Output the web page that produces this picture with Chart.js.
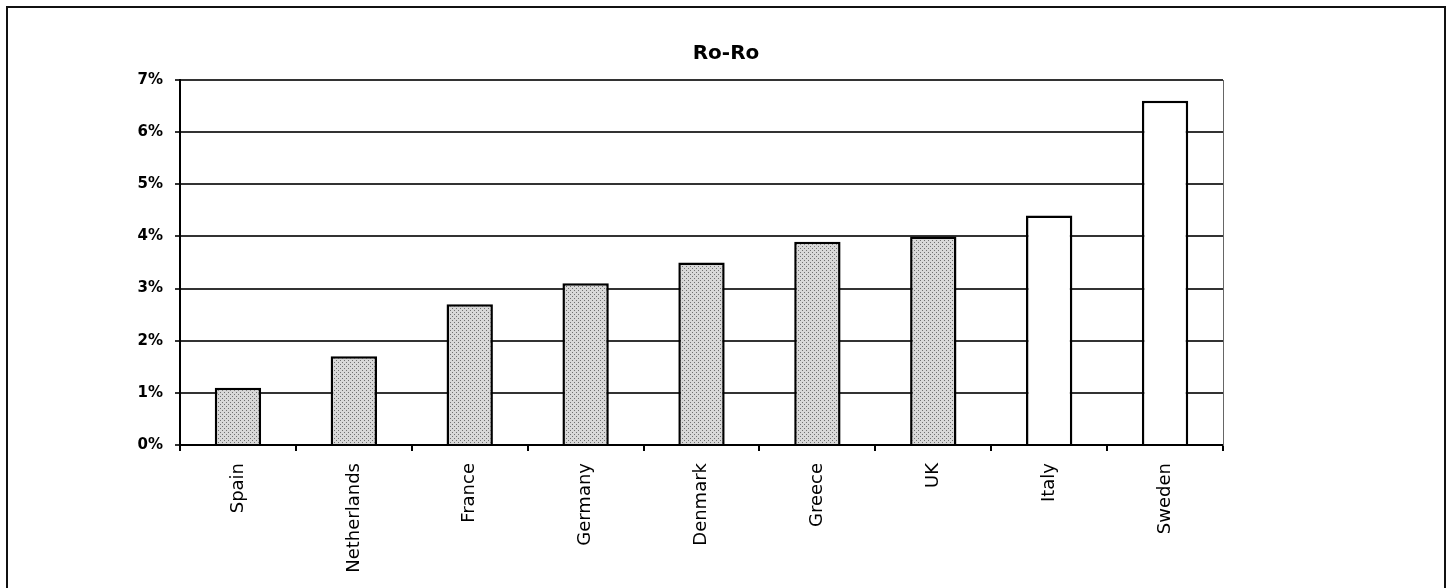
<!DOCTYPE html>
<html>
<head>
<meta charset="utf-8">
<title>Ro-Ro</title>
<script src="https://cdn.jsdelivr.net/npm/chart.js@4/dist/chart.umd.min.js"></script>
<style>
  html, body { margin: 0; padding: 0; background: #fff; }
  #wrap { position: relative; width: 1452px; height: 588px; overflow: hidden; }
  #frame {
    position: absolute; left: 6px; top: 6px; width: 1436px; height: 600px;
    border: 2px solid #111; pointer-events: none;
  }
  canvas { position: absolute; left: 0; top: 0; }
</style>
</head>
<body>
<div id="wrap">
  <canvas id="chart" width="1452" height="588"></canvas>
  <div id="frame"></div>
</div>
<script>
// Ro-Ro share by country, in percent
const countries = ['Spain', 'Netherlands', 'France', 'Germany', 'Denmark', 'Greece', 'UK', 'Italy', 'Sweden'];
const shares = [1.1, 1.7, 2.7, 3.1, 3.5, 3.9, 4.0, 4.4, 6.6];
const shaded = [true, true, true, true, true, true, true, false, false];
const yTicks = [0, 1, 2, 3, 4, 5, 6, 7];

// Stippled grey fill for the shaded bars
function stipple() {
  const c = document.createElement('canvas');
  c.width = 4; c.height = 4;
  const g = c.getContext('2d');
  g.fillStyle = '#d8d8d8';
  g.fillRect(0, 0, 4, 4);
  g.fillStyle = '#707070';
  g.fillRect(0, 0, 1, 1);
  g.fillRect(2, 2, 1, 1);
  return g.createPattern(c, 'repeat');
}
const dots = stipple();

new Chart(document.getElementById('chart'), {
  type: 'bar',
  data: {
    labels: countries,
    datasets: [{
      data: shares,
      backgroundColor: shaded.map(s => s ? dots : '#ffffff'),
      borderColor: '#000',
      borderWidth: 2.5,
      categoryPercentage: 1,
      barPercentage: 0.4
    }]
  },
  options: {
    responsive: false,
    animation: false,
    layout: { padding: 0 },
    plugins: {
      legend: { display: false },
      tooltip: { enabled: false },
      title: {
        display: true,
        text: 'Ro-Ro',
        color: '#000',
        font: { family: 'DejaVu Sans', size: 20, weight: 'bold' },
        padding: { top: 42, bottom: 14 }
      }
    },
    scales: {
      x: {
        grid: {
          offset: true,
          drawOnChartArea: false,
          drawTicks: true,
          tickLength: 6,
          color: '#000',
          lineWidth: 2
        },
        border: { display: true, color: '#000', width: 2 },
        ticks: {
          color: '#000',
          minRotation: 90,
          maxRotation: 90,
          autoSkip: false,
          padding: 12,
          font: { family: 'DejaVu Sans', size: 18 }
        },
        afterFit: s => { s.height = 143; }
      },
      y: {
        min: 0,
        max: 7,
        afterBuildTicks: s => { s.ticks = yTicks.map(v => ({ value: v })); },
        grid: {
          color: '#333',
          lineWidth: 2,
          tickLength: 5
        },
        border: { display: true, color: '#000', width: 2 },
        ticks: {
          color: '#000',
          padding: 12,
          font: { family: 'DejaVu Sans', size: 15, weight: 'bold' },
          callback: v => v + '%'
        },
        afterFit: s => { s.width = 180; }
      },
      edge: {
        position: 'right',
        min: 0,
        max: 7,
        grid: { drawOnChartArea: false, drawTicks: false },
        border: { display: true, color: '#666', width: 1, dash: [2, 3] },
        ticks: { display: false },
        afterFit: s => { s.width = 229; }
      }
    }
  }
});
</script>
</body>
</html>
